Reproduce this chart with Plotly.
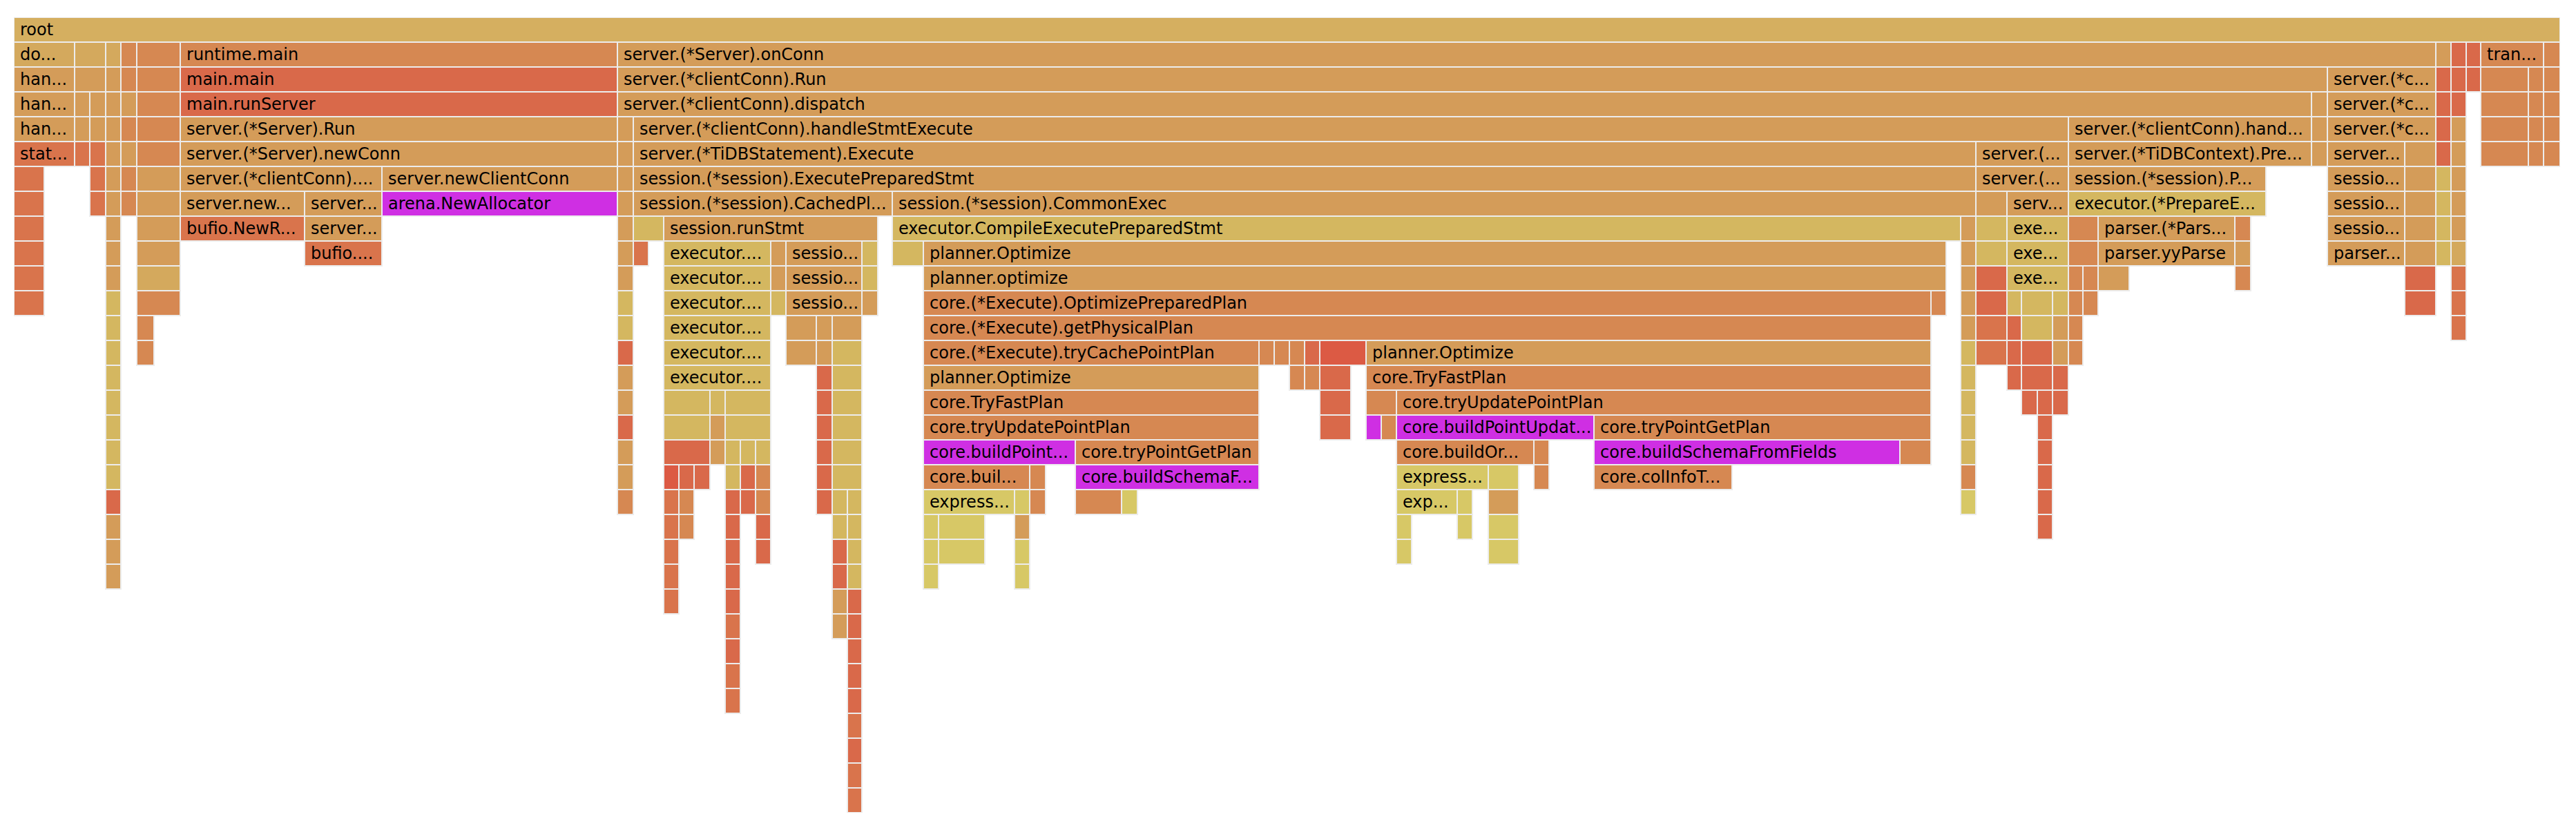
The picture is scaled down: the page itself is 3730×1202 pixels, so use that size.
import plotly.graph_objects as go

# Flame graph of CPU samples. One inner list per stack depth (0 = root).
# Offsets are in samples from the left edge of the profile.
frame_start = [
    [0],
    [0, 88, 133, 155, 178, 241, 874, 3507, 3529, 3551, 3572, 3663],
    [0, 88, 133, 155, 178, 241, 874, 3350, 3507, 3529, 3551, 3572, 3641, 3663],
    [0, 88, 110, 133, 155, 178, 241, 874, 3327, 3350, 3507, 3529, 3572, 3641, 3663],
    [0, 88, 110, 133, 155, 178, 241, 874, 897, 2975, 3327, 3350, 3507, 3529, 3572, 3641, 3663],
    [0, 88, 110, 133, 155, 178, 241, 874, 897, 2841, 2975, 3327, 3350, 3462, 3507, 3529, 3572, 3641, 3663],
    [0, 110, 133, 155, 178, 241, 533, 874, 897, 2841, 2975, 3350, 3462, 3507, 3529],
    [0, 110, 133, 155, 178, 241, 421, 533, 874, 897, 1272, 2841, 2886, 2975, 3350, 3462, 3507, 3529],
    [0, 133, 178, 241, 421, 874, 897, 941, 1272, 2819, 2841, 2886, 2975, 3018, 3216, 3350, 3462, 3507, 3529],
    [0, 133, 178, 421, 874, 897, 941, 1096, 1118, 1228, 1272, 1317, 2819, 2841, 2886, 2975, 3018, 3216, 3350, 3462, 3507, 3529],
    [0, 133, 178, 874, 941, 1096, 1118, 1228, 1317, 2819, 2841, 2886, 2975, 2996, 3018, 3216, 3462, 3529],
    [0, 133, 178, 874, 941, 1096, 1118, 1228, 1317, 2776, 2819, 2841, 2886, 2907, 2952, 2975, 2996, 3462, 3529],
    [133, 178, 874, 941, 1118, 1162, 1185, 1317, 2819, 2841, 2886, 2907, 2952, 2975, 3529],
    [133, 178, 874, 941, 1118, 1162, 1185, 1317, 1803, 1825, 1847, 1869, 1891, 1958, 2819, 2841, 2886, 2907, 2952, 2975],
    [133, 874, 941, 1162, 1185, 1317, 1847, 1869, 1891, 1958, 2819, 2886, 2907, 2952],
    [133, 874, 941, 1008, 1030, 1162, 1185, 1317, 1891, 1958, 2002, 2819, 2907, 2930, 2952],
    [133, 874, 941, 1008, 1030, 1162, 1185, 1317, 1891, 1958, 1980, 2002, 2288, 2819, 2930],
    [133, 874, 941, 1008, 1030, 1052, 1074, 1162, 1185, 1317, 1537, 2002, 2201, 2288, 2731, 2819, 2930],
    [133, 874, 941, 963, 985, 1030, 1052, 1074, 1162, 1185, 1317, 1471, 1537, 2002, 2135, 2201, 2288, 2819, 2930],
    [133, 874, 941, 963, 1030, 1052, 1074, 1162, 1185, 1207, 1317, 1449, 1471, 1537, 1604, 2002, 2090, 2135, 2819, 2930],
    [133, 941, 963, 1030, 1074, 1185, 1207, 1317, 1339, 1449, 2002, 2090, 2135, 2930],
    [133, 941, 1030, 1074, 1185, 1207, 1317, 1339, 1449, 2002, 2135],
    [133, 941, 1030, 1185, 1207, 1317, 1449],
    [941, 1030, 1185, 1207],
    [1030, 1185, 1207],
    [1030, 1207],
    [1030, 1207],
    [1030, 1207],
    [1207],
    [1207],
    [1207],
    [1207],
]

frame_stop = [
    [3687],
    [88, 133, 155, 178, 241, 874, 3507, 3529, 3551, 3572, 3663, 3687],
    [88, 133, 155, 178, 241, 874, 3350, 3507, 3529, 3551, 3572, 3641, 3663, 3687],
    [88, 110, 133, 155, 178, 241, 874, 3327, 3350, 3507, 3529, 3551, 3641, 3663, 3687],
    [88, 110, 133, 155, 178, 241, 874, 897, 2975, 3327, 3350, 3507, 3529, 3551, 3641, 3663, 3687],
    [88, 110, 133, 155, 178, 241, 874, 897, 2841, 2975, 3327, 3350, 3462, 3507, 3529, 3551, 3641, 3663, 3687],
    [44, 133, 155, 178, 241, 533, 874, 897, 2841, 2975, 3261, 3462, 3507, 3529, 3551],
    [44, 133, 155, 178, 241, 421, 533, 874, 897, 1272, 2841, 2886, 2975, 3261, 3462, 3507, 3529, 3551],
    [44, 155, 241, 421, 533, 897, 941, 1251, 2819, 2841, 2886, 2975, 3018, 3216, 3239, 3462, 3507, 3529, 3551],
    [44, 155, 241, 533, 897, 919, 1096, 1118, 1228, 1251, 1317, 2798, 2841, 2886, 2975, 3018, 3216, 3239, 3462, 3507, 3529, 3551],
    [44, 155, 241, 897, 1096, 1118, 1228, 1251, 2798, 2841, 2886, 2975, 2996, 3018, 3063, 3239, 3507, 3551],
    [44, 155, 241, 897, 1096, 1118, 1228, 1251, 2776, 2798, 2841, 2886, 2907, 2952, 2975, 2996, 3018, 3507, 3551],
    [155, 203, 897, 1096, 1162, 1185, 1228, 2776, 2841, 2886, 2907, 2952, 2975, 2996, 3551],
    [155, 203, 897, 1096, 1162, 1185, 1228, 1803, 1825, 1847, 1869, 1891, 1958, 2776, 2841, 2886, 2907, 2952, 2975, 2996],
    [155, 897, 1096, 1185, 1228, 1803, 1869, 1891, 1936, 2776, 2841, 2907, 2952, 2975],
    [155, 897, 1008, 1030, 1096, 1185, 1228, 1803, 1936, 2002, 2776, 2841, 2930, 2952, 2975],
    [155, 897, 1008, 1030, 1096, 1185, 1228, 1803, 1936, 1980, 2002, 2288, 2776, 2841, 2952],
    [155, 897, 1008, 1030, 1052, 1074, 1096, 1185, 1228, 1537, 1803, 2201, 2223, 2731, 2776, 2841, 2952],
    [155, 897, 963, 985, 1008, 1052, 1074, 1096, 1185, 1228, 1471, 1494, 1803, 2135, 2179, 2223, 2488, 2841, 2952],
    [155, 897, 963, 985, 1052, 1074, 1096, 1185, 1207, 1228, 1449, 1471, 1494, 1604, 1627, 2090, 2112, 2179, 2841, 2952],
    [155, 963, 985, 1052, 1096, 1207, 1228, 1339, 1406, 1471, 2024, 2112, 2179, 2952],
    [155, 963, 1052, 1096, 1207, 1228, 1339, 1406, 1471, 2024, 2179],
    [155, 963, 1052, 1207, 1228, 1339, 1471],
    [963, 1052, 1207, 1228],
    [1052, 1207, 1228],
    [1052, 1228],
    [1052, 1228],
    [1052, 1228],
    [1228],
    [1228],
    [1228],
    [1228],
]

# Labels as displayed (truncated where the frame is narrow); "" = no label shown.
frame_name = [
    ["root"],
    ["do...", "", "", "", "", "runtime.main", "server.(*Server).onConn", "", "", "", "tran...", ""],
    ["han...", "", "", "", "", "main.main", "server.(*clientConn).Run", "server.(*c...", "", "", "", "", "", ""],
    ["han...", "", "", "", "", "", "main.runServer", "server.(*clientConn).dispatch", "", "server.(*c...", "", "", "", "", ""],
    ["han...", "", "", "", "", "", "server.(*Server).Run", "", "server.(*clientConn).handleStmtExecute",
     "server.(*clientConn).hand...", "", "server.(*c...", "", "", "", "", ""],
    ["stat...", "", "", "", "", "", "server.(*Server).newConn", "", "server.(*TiDBStatement).Execute", "server.(...",
     "server.(*TiDBContext).Pre...", "", "server...", "", "", "", "", "", ""],
    ["", "", "", "", "", "server.(*clientConn)....", "server.newClientConn", "", "session.(*session).ExecutePreparedStmt",
     "server.(...", "session.(*session).P...", "sessio...", "", "", ""],
    ["", "", "", "", "", "server.new...", "server...", "arena.NewAllocator", "", "session.(*session).CachedPl...",
     "session.(*session).CommonExec", "", "serv...", "executor.(*PrepareE...", "sessio...", "", "", ""],
    ["", "", "", "bufio.NewR...", "server...", "", "", "session.runStmt", "executor.CompileExecutePreparedStmt", "", "",
     "exe...", "", "parser.(*Pars...", "", "sessio...", "", "", ""],
    ["", "", "", "bufio....", "", "", "executor....", "", "sessio...", "", "", "planner.Optimize", "", "", "exe...", "",
     "parser.yyParse", "", "parser...", "", "", ""],
    ["", "", "", "", "executor....", "", "sessio...", "", "planner.optimize", "", "", "exe...", "", "", "", "", "", ""],
    ["", "", "", "", "executor....", "", "sessio...", "", "core.(*Execute).OptimizePreparedPlan",
     "", "", "", "", "", "", "", "", "", ""],
    ["", "", "", "executor....", "", "", "", "core.(*Execute).getPhysicalPlan", "", "", "", "", "", "", ""],
    ["", "", "", "executor....", "", "", "", "core.(*Execute).tryCachePointPlan", "", "", "", "", "", "planner.Optimize",
     "", "", "", "", "", ""],
    ["", "", "executor....", "", "", "planner.Optimize", "", "", "", "core.TryFastPlan", "", "", "", ""],
    ["", "", "", "", "", "", "", "core.TryFastPlan", "", "", "core.tryUpdatePointPlan", "", "", "", ""],
    ["", "", "", "", "", "", "", "core.tryUpdatePointPlan", "", "", "", "core.buildPointUpdat...", "core.tryPointGetPlan", "", ""],
    ["", "", "", "", "", "", "", "", "", "core.buildPoint...", "core.tryPointGetPlan", "core.buildOr...", "",
     "core.buildSchemaFromFields", "", "", ""],
    ["", "", "", "", "", "", "", "", "", "", "core.buil...", "", "core.buildSchemaF...", "express...", "", "",
     "core.colInfoT...", "", ""],
    ["", "", "", "", "", "", "", "", "", "", "express...", "", "", "", "", "exp...", "", "", "", ""],
]

# ---- style -------------------------------------------------------------
PALETTE = {
    "A": "#d5af60",  # root sand
    "I": "#d4a95d",  # sand-orange
    "B": "#d49c59",  # tan orange
    "C": "#d68852",  # orange
    "D": "#d9694a",  # red-orange
    "E": "#d9744c",  # light red-orange
    "F": "#dc5a44",  # deep red
    "G": "#d4b760",  # yellow
    "H": "#d7c866",  # yellow-green
    "M": "#cf2fe3",  # magenta (allocation)
}
frame_color = [
    ["A"],
    ["I", "I", "I", "C", "C", "C", "B", "B", "D", "D", "C", "C"],
    ["B", "B", "B", "C", "C", "D", "B", "B", "D", "D", "D", "C", "C", "C"],
    ["B", "B", "B", "B", "B", "C", "D", "B", "B", "B", "D", "D", "C", "C", "C"],
    ["B", "B", "B", "B", "C", "C", "B", "B", "B", "B", "B", "B", "D", "B", "C", "C", "C"],
    ["E", "E", "E", "B", "B", "C", "B", "B", "B", "B", "B", "B", "B", "B", "D", "B", "C", "C", "C"],
    ["E", "E", "B", "C", "B", "B", "B", "B", "B", "B", "B", "B", "B", "G", "B"],
    ["E", "E", "B", "C", "B", "B", "B", "M", "B", "B", "B", "B", "B", "G", "B", "B", "G", "B"],
    ["E", "B", "B", "E", "B", "B", "G", "B", "G", "B", "G", "G", "C", "B", "C", "B", "B", "G", "B"],
    ["E", "B", "B", "E", "B", "E", "G", "B", "B", "G", "G", "B", "B", "G", "G", "C", "B", "B", "B", "B", "G", "I"],
    ["E", "B", "I", "B", "G", "B", "B", "G", "B", "B", "D", "G", "C", "C", "B", "C", "D", "E"],
    ["E", "G", "C", "G", "G", "G", "B", "B", "C", "C", "B", "D", "G", "G", "G", "C", "C", "D", "E"],
    ["G", "C", "G", "G", "B", "B", "B", "C", "B", "E", "D", "G", "B", "C", "E"],
    ["G", "C", "D", "G", "B", "B", "G", "C", "C", "C", "C", "D", "F", "B", "G", "E", "D", "D", "B", "C"],
    ["G", "B", "G", "D", "G", "B", "C", "C", "D", "C", "G", "D", "D", "D"],
    ["G", "B", "G", "G", "G", "D", "G", "C", "D", "C", "C", "G", "D", "D", "D"],
    ["G", "D", "G", "B", "G", "D", "G", "C", "D", "M", "C", "M", "C", "G", "D"],
    ["G", "B", "D", "B", "G", "G", "G", "D", "G", "M", "C", "C", "C", "M", "C", "G", "D"],
    ["G", "B", "F", "D", "D", "G", "D", "C", "D", "G", "C", "C", "M", "H", "H", "C", "C", "C", "D"],
    ["D", "C", "E", "C", "D", "D", "C", "D", "G", "G", "H", "H", "C", "C", "H", "H", "H", "B", "H", "D"],
    ["B", "E", "C", "D", "D", "G", "G", "H", "H", "B", "H", "H", "H", "D"],
    ["B", "E", "D", "D", "D", "G", "H", "H", "H", "H", "H"],
    ["B", "E", "D", "D", "G", "H", "H"],
    ["E", "D", "B", "D"],
    ["E", "B", "D"],
    ["D", "D"],
    ["E", "D"],
    ["E", "D"],
    ["E"],
    ["D"],
    ["E"],
    ["E"],
]

depth, base, size, labels, colors = [], [], [], [], []
for d, (starts, stops) in enumerate(zip(frame_start, frame_stop)):
    names = frame_name[d] if d < len(frame_name) else []
    cols = frame_color[d] if d < len(frame_color) else []
    for i, (s, e) in enumerate(zip(starts, stops)):
        depth.append(d)
        base.append(s)
        size.append(e - s)
        name = names[i] if i < len(names) else ""
        labels.append("\u2005" + name if name else "")
        colors.append(PALETTE[cols[i]] if i < len(cols) else PALETTE["B"])

n_levels = len(frame_start)
total = frame_stop[0][0] - frame_start[0][0]

fig = go.Figure(
    go.Bar(
        orientation="h",
        y=depth,
        x=size,
        base=base,
        width=1,
        marker=dict(color=colors, line=dict(color="#ececec", width=2)),
        text=labels,
        textposition="inside",
        insidetextanchor="start",
        textangle=0,
        constraintext="none",
        textfont=dict(family="DejaVu Sans", size=24, color="#000000"),
        insidetextfont=dict(family="DejaVu Sans", size=24, color="#000000"),
        hoverinfo="skip",
    )
)

fig.update_layout(
    width=3730,
    height=1202,
    margin=dict(l=20, r=23, t=25, b=25, pad=0),
    paper_bgcolor="white",
    plot_bgcolor="white",
    showlegend=False,
    bargap=0,
    uniformtext=dict(minsize=24, mode="show"),
    xaxis=dict(range=[0, total], visible=False, fixedrange=True),
    yaxis=dict(range=[n_levels - 0.5, -0.5], visible=False, fixedrange=True),
)

fig.write_html(
    "out.html",
    config={"displayModeBar": False},
    post_script="document.body.style.margin='0';document.body.style.overflow='hidden';",
)
